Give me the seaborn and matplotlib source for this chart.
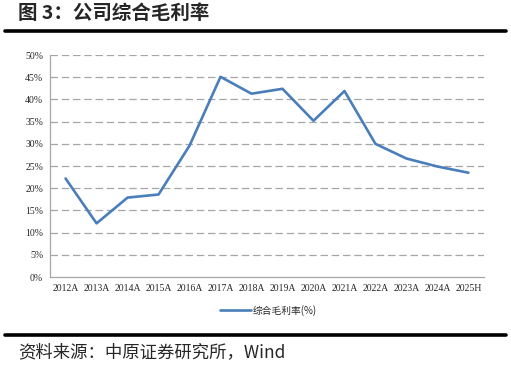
import pandas as pd
import seaborn as sns
import matplotlib.pyplot as plt
from matplotlib.lines import Line2D

years = ['2012A', '2013A', '2014A', '2015A', '2016A', '2017A', '2018A',
         '2019A', '2020A', '2021A', '2022A', '2023A', '2024A', '2025H']
margin = [22.2, 12.1, 17.9, 18.6, 29.6, 45.1, 41.3,
          42.4, 35.2, 41.9, 30.0, 26.7, 24.9, 23.5]
yticks = [0, 5, 10, 15, 20, 25, 30, 35, 40, 45, 50]
series_name = '综合毛利率(%)'

df = pd.DataFrame({'year': years, 'margin': margin})

sns.set_style('white')
plt.rcParams['font.family'] = ['Noto Sans CJK SC', 'DejaVu Sans']

fig = plt.figure(figsize=(5.11, 3.67), dpi=100)
ax = fig.add_axes([0.098, 0.245, 0.849, 0.605])

line_color = '#4A7EBB'
sns.lineplot(data=df, x='year', y='margin', sort=False, color=line_color,
             linewidth=1.9, ax=ax)

ax.set_xlim(-0.5, len(years) - 0.5)
ax.set_ylim(0, 50)
ax.set_yticks(yticks)
ax.set_yticklabels([f'{t}%' for t in yticks], family='Liberation Serif', fontsize=7)
ax.set_xticks(range(len(years)))
ax.set_xticklabels(years, family='Liberation Serif', fontsize=7)
ax.tick_params(axis='both', length=0, pad=5)
ax.set_xlabel('')
ax.set_ylabel('')

for t in yticks[1:]:
    ax.axhline(t, color='#A6A6A6', linestyle=(0, (6, 3)), linewidth=0.9, zorder=0)

for side in ['top', 'right']:
    ax.spines[side].set_visible(False)
for side in ['left', 'bottom']:
    ax.spines[side].set_color('#A6A6A6')
    ax.spines[side].set_linewidth(0.9)

handle = Line2D([0], [0], color=line_color, linewidth=1.9)
leg = fig.legend([handle], [series_name], loc='center', bbox_to_anchor=(0.525, 0.155),
                 frameon=False, fontsize=7, handlelength=3.2, handletextpad=0.2)

# title and source
fig.text(0.035, 0.962, '图 3：公司综合毛利率', fontsize=14, fontweight='bold',
         va='center', ha='left')
fig.add_artist(Line2D([0.01, 0.99], [0.916, 0.916], color='black', linewidth=2.6))
fig.add_artist(Line2D([0.01, 0.99], [0.087, 0.087], color='black', linewidth=2.6))
fig.text(0.035, 0.041, '资料来源：中原证券研究所，Wind', fontsize=12.5,
         va='center', ha='left')

fig.savefig('out.png', dpi=100)
